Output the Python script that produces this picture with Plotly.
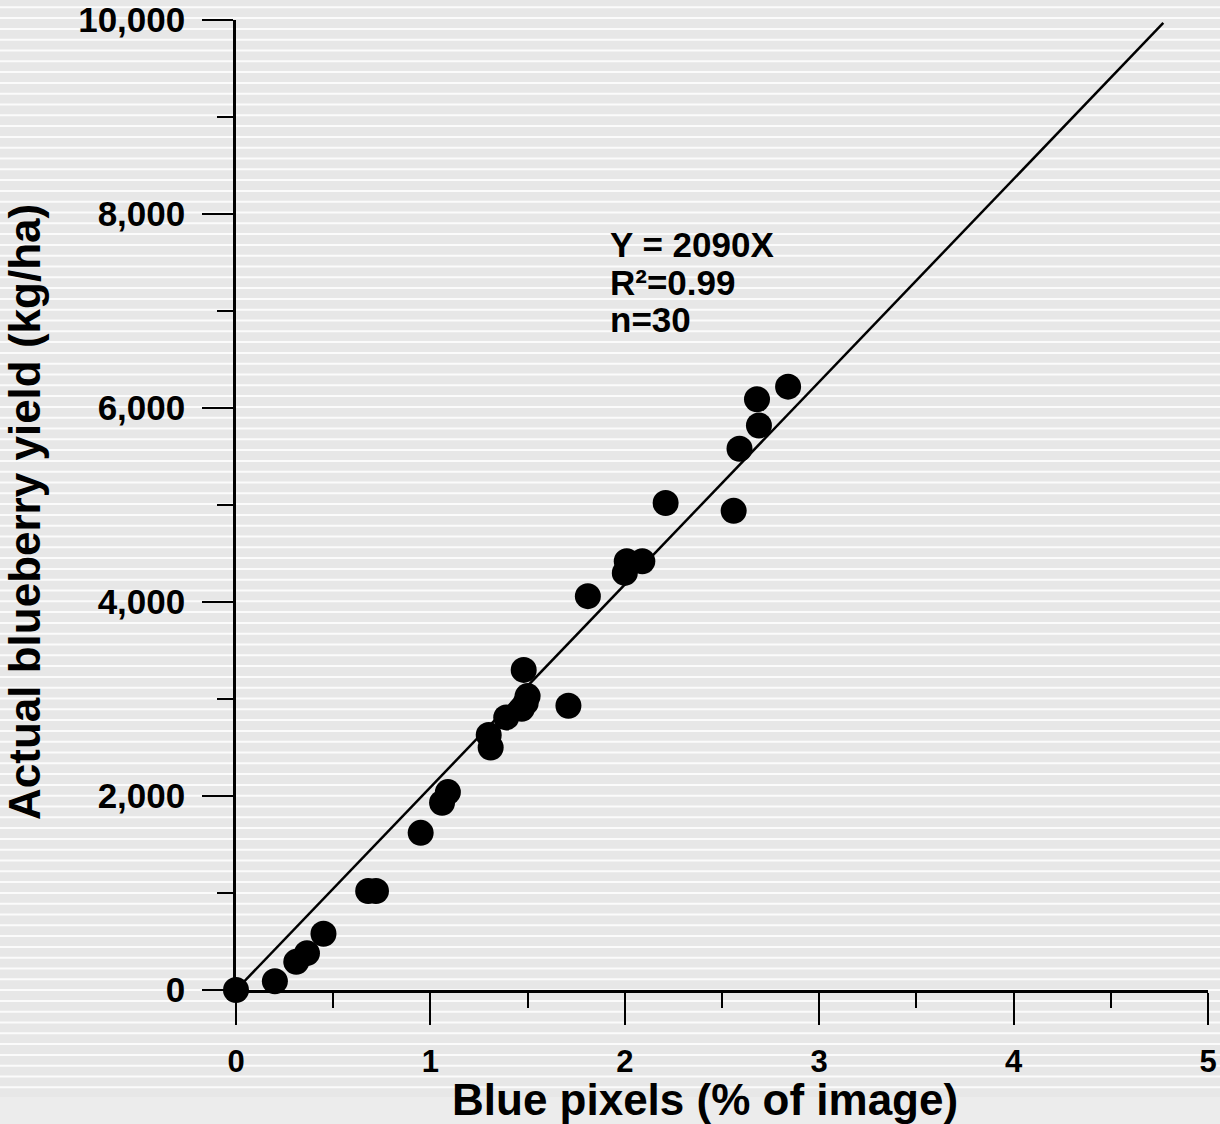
import plotly.graph_objects as go

# ---- data ----
blue_pixels = [0, 0.20, 0.31, 0.365, 0.45, 0.68, 0.72, 0.95, 1.06, 1.09,
               1.30, 1.31, 1.39, 1.47, 1.49, 1.50, 1.48, 1.71, 1.81, 2.00,
               2.01, 2.09, 2.21, 2.56, 2.59, 2.68, 2.69, 2.84, 4.91]
yield_kg = [0, 90, 290, 380, 580, 1020, 1020, 1620, 1930, 2040,
            2630, 2500, 2810, 2900, 2960, 3030, 3300, 2930, 4060, 4300,
            4420, 4420, 5020, 4940, 5580, 6090, 5820, 6220, 10220]

slope = 2090
fit_x = [0, 4.77]
fit_y = [slope * v for v in fit_x]

x_ticks = [0, 1, 2, 3, 4, 5]
y_ticks = [0, 2000, 4000, 6000, 8000, 10000]
y_tick_labels = ["0", "2,000", "4,000", "6,000", "8,000", "10,000"]

eq_lines = ["Y = 2090X", "R\u00b2=0.99", "n=30"]

# ---- layout geometry ----
W, H = 1220, 1124
ML, MR, MT, MB = 236, 12, 20, 134
PW, PH = W - ML - MR, H - MT - MB

def px_to_py(p):
    return (H - MB - p) / PH

def px_to_px(p):
    return (p - ML) / PW

FONT = "Liberation Sans, Arial, sans-serif"
bg = "#e7e7e7"

fig = go.Figure()

fig.add_trace(go.Scatter(x=fit_x, y=fit_y, mode="lines",
                         line=dict(color="black", width=2.5),
                         showlegend=False, cliponaxis=False))
fig.add_trace(go.Scatter(x=blue_pixels, y=yield_kg, mode="markers",
                         marker=dict(color="black", size=26, line=dict(width=0)),
                         showlegend=False, cliponaxis=False))

# background stripes
shapes = []
x0, x1 = px_to_px(0), px_to_px(W)
shapes.append(dict(type="rect", xref="paper", yref="paper", x0=x0, x1=x1,
                   y0=px_to_py(H), y1=px_to_py(1097), fillcolor="#ececec",
                   line=dict(width=0), layer="below"))
p = 7.3
while p < 1097:
    shapes.append(dict(type="line", xref="paper", yref="paper", x0=x0, x1=x1,
                       y0=px_to_py(p), y1=px_to_py(p),
                       line=dict(color="#fbfbfb", width=2), layer="below"))
    p += 10.8

annotations = []
for i, t in enumerate(eq_lines):
    annotations.append(dict(text=t, xref="paper", yref="paper",
                            x=px_to_px(608), y=px_to_py(245 + 37 * i),
                            xanchor="left", yanchor="middle", showarrow=False,
                            font=dict(family=FONT, size=35, color="black", weight="bold")))
# axis titles
annotations.append(dict(text="Blue pixels (% of image)", xref="paper", yref="paper",
                        x=px_to_px(705), y=px_to_py(1099), xanchor="center",
                        yanchor="middle", showarrow=False,
                        font=dict(family=FONT, size=44, color="black", weight="bold")))
annotations.append(dict(text="Actual blueberry yield (kg/ha)", xref="paper", yref="paper",
                        x=px_to_px(24), y=px_to_py(512), xanchor="center",
                        yanchor="middle", showarrow=False, textangle=-90,
                        font=dict(family=FONT, size=44, color="black", weight="bold")))

fig.update_layout(
    width=W, height=H,
    margin=dict(l=ML, r=MR, t=MT, b=MB, autoexpand=False),
    paper_bgcolor=bg, plot_bgcolor="rgba(0,0,0,0)",
    shapes=shapes, annotations=annotations,
    font=dict(family=FONT, color="black", weight="bold"),
    xaxis=dict(range=[0, 5], tickvals=x_ticks, ticks="outside", ticklen=32,
               tickwidth=2, tickcolor="black", showline=True, linecolor="black",
               linewidth=2.5, showgrid=False, zeroline=False, automargin=False,
               tickfont=dict(family=FONT, size=31, weight="bold"),
               ticklabelstandoff=10,
               minor=dict(dtick=0.5, ticks="outside", ticklen=15, tickwidth=2,
                          tickcolor="black", showgrid=False)),
    yaxis=dict(range=[0, 10000], tickvals=y_ticks, ticktext=y_tick_labels,
               ticks="outside", ticklen=31, tickwidth=2, tickcolor="black",
               showline=True, linecolor="black", linewidth=2.5, showgrid=False,
               zeroline=False, automargin=False,
               tickfont=dict(family=FONT, size=35, weight="bold"),
               ticklabelstandoff=10,
               minor=dict(dtick=1000, ticks="outside", ticklen=16, tickwidth=2,
                          tickcolor="black", showgrid=False)),
)

fig.write_html("out.html",
               config={"displayModeBar": False},
               post_script="document.body.style.margin='0';"
                           "document.body.style.background='#e7e7e7';"
                           "document.body.style.overflow='hidden';")
